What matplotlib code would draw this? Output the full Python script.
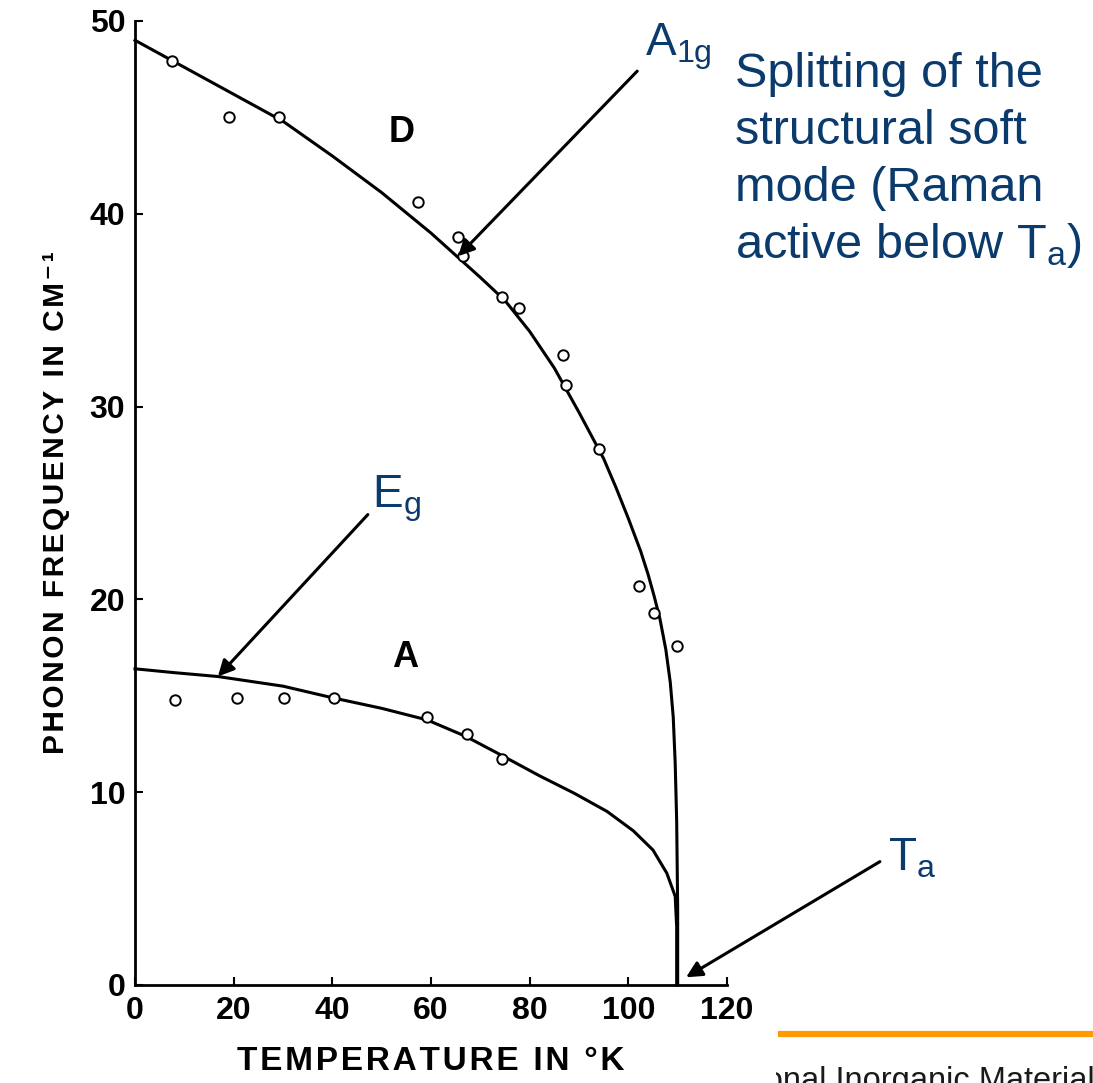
import matplotlib.pyplot as plt
from matplotlib.lines import Line2D
from matplotlib.transforms import Bbox, TransformedBbox

# measured soft-mode frequencies (cm^-1) vs temperature (K)
d_temp = [7.6, 19.1, 29.2, 57.4, 65.5, 66.5, 74.4, 77.8, 86.8, 87.4, 94.1, 102.2, 105.2, 109.9]
d_freq = [47.9, 45.0, 45.0, 40.6, 38.8, 37.8, 35.7, 35.1, 32.7, 31.1, 27.8, 20.7, 19.3, 17.6]
a_temp = [8.1, 20.7, 30.2, 40.3, 59.2, 67.3, 74.4]
a_freq = [14.8, 14.9, 14.9, 14.9, 13.9, 13.0, 11.7]

# smooth curves drawn through the two branches
d_curve_temp = [0, 10, 20, 30, 40, 50, 60, 70, 75, 80, 85, 90, 95, 97.5, 100, 102.5, 104,
                105.2, 106.4, 107.6, 108.5, 109.1, 109.5, 109.8, 110.0, 110.0]
d_curve_freq = [49.0, 47.6, 46.2, 44.8, 43.0, 41.1, 39.0, 36.7, 35.5, 33.9, 32.0, 29.7,
                27.3, 25.8, 24.2, 22.5, 21.3, 20.2, 19.0, 17.4, 15.7, 13.9, 11.5, 8.5, 4.0, 0.0]
a_curve_temp = [0, 8.0, 16.8, 30.0, 40.0, 50.0, 59.2, 67.0, 74.4, 82.0, 89.0, 95.7,
                101.0, 105.0, 107.8, 109.5, 109.8, 109.8]
a_curve_freq = [16.4, 16.2, 16.0, 15.5, 14.9, 14.35, 13.75, 12.9, 11.9, 10.85, 9.95, 9.0,
                8.0, 7.0, 5.8, 4.6, 3.0, 0.0]

x_ticks = [0, 20, 40, 60, 80, 100, 120]
y_ticks = [0, 10, 20, 30, 40, 50]
note_lines = ['Splitting of the', 'structural soft', 'mode (Raman',
              r'active below $\mathregular{T_a}$)']

W, H = 1093, 1083
BLUE = '#0b3a6c'

plt.rcParams['font.family'] = ['Liberation Sans', 'DejaVu Sans']
plt.rcParams['mathtext.fontset'] = 'custom'
plt.rcParams['mathtext.rm'] = 'Liberation Sans'


def fx(px):
    return px / W


def fy(py):
    return 1 - py / H


def spaced(text, gap='\u200a'):
    return gap.join(text)


fig = plt.figure(figsize=(W / 100, H / 100), dpi=100)
ax = fig.add_axes([fx(135), fy(985), (727 - 135) / W, (985 - 21) / H])

ax.plot(d_curve_temp, d_curve_freq, color='black', lw=2.2, clip_on=False)
ax.plot(a_curve_temp, a_curve_freq, color='black', lw=2.2, clip_on=False)
for t, f in [(d_temp, d_freq), (a_temp, a_freq)]:
    ax.plot(t, f, 'o', ms=7.5, mfc='white', mec='black', mew=1.4, zorder=3, clip_on=False)

ax.set_xlim(0, 120)
ax.set_ylim(0, 50)
ax.set_xticks(x_ticks)
ax.set_yticks(y_ticks)
for side in ['top', 'right']:
    ax.spines[side].set_visible(False)
for side in ['left', 'bottom']:
    ax.spines[side].set_linewidth(2)
ax.tick_params(direction='in', length=6, width=1.5, labelsize=23)
ax.tick_params(axis='x', pad=8)
ax.tick_params(axis='y', pad=7)
for lbl in ax.get_xticklabels() + ax.get_yticklabels():
    lbl.set_fontweight('bold')

ax.set_xlabel(spaced('TEMPERATURE IN °K'), fontsize=24, fontweight='bold', labelpad=14)
ax.set_ylabel(spaced('PHONON FREQUENCY IN CM⁻¹'), fontsize=21.5, fontweight='bold',
              labelpad=14)

ax.text(54.0, 44.2, 'D', ha='center', va='center', fontsize=26, fontweight='bold')
ax.text(54.7, 17.0, 'A', ha='center', va='center', fontsize=26, fontweight='bold')

arrow_kw = dict(arrowstyle='-|>', mutation_scale=24, lw=2.2, color='black',
                shrinkA=0, shrinkB=0)
ax.annotate('', xy=(65.5, 37.8), xytext=(101.8, 47.4), arrowprops=arrow_kw,
            annotation_clip=False)
ax.annotate('', xy=(16.8, 16.0), xytext=(47.2, 24.4), arrowprops=arrow_kw,
            annotation_clip=False)
ax.annotate('', xy=(111.7, 0.4), xytext=(151.0, 6.4), arrowprops=arrow_kw,
            annotation_clip=False)

# mode labels and note in slide blue
fig.text(fx(645), fy(56), r'$\mathregular{A_{1g}}$', color=BLUE, fontsize=33, va='baseline')
fig.text(fx(372), fy(508), r'$\mathregular{E_g}$', color=BLUE, fontsize=33, va='baseline')
fig.text(fx(888), fy(870), r'$\mathregular{T_a}$', color=BLUE, fontsize=33, va='baseline')
for i, line in enumerate(note_lines):
    fig.text(fx(735), fy(87 + 57 * i), line, color=BLUE, fontsize=35, va='baseline')

# slide footer
fig.add_artist(Line2D([fx(778), 1], [fy(1034), fy(1034)], transform=fig.transFigure,
                      color='#ff9900', lw=4.5, solid_capstyle='butt'))
footer = fig.text(fx(676), fy(1090), 'Functional Inorganic Materials', fontsize=23.5,
                  color='#1a1a1a', va='baseline')
footer.set_clip_box(TransformedBbox(Bbox([[fx(776), 0], [1, 1]]), fig.transFigure))

fig.savefig('out.png', dpi=100)
